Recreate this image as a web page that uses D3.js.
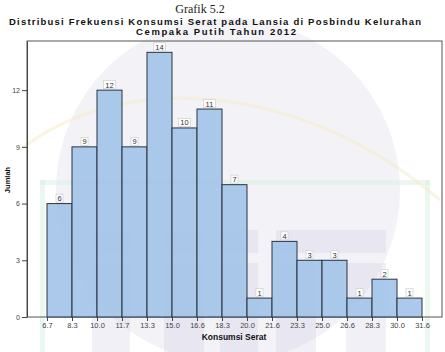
<!DOCTYPE html>
<html>
<head>
<meta charset="utf-8">
<script src="https://cdn.jsdelivr.net/npm/d3@7"></script>
<style>
body { margin: 0; background: #fff; }
svg { display: block; }
</style>
</head>
<body>
<div id="chart"></div>
<script>
// bin edges (Konsumsi Serat) and counts per bin
var binEdges = ["6.7", "8.3", "10.0", "11.7", "13.3", "15.0", "16.6", "18.3", "20.0", "21.6", "23.3", "25.0", "26.6", "28.3", "30.0", "31.6"];
var counts = [6, 9, 12, 9, 14, 10, 11, 7, 1, 4, 3, 3, 1, 2, 1];
var yTicks = [0, 3, 6, 9, 12];

var w = 445, h = 352;
var padL = 27, padR = 442, padT = 41, padB = 317;

var svg = d3.select("#chart").append("svg")
	.attr("width", w)
	.attr("height", h);

// faint watermark behind the chart
var wm = svg.append("g").attr("class", "watermark");
wm.append("circle")
	.attr("cx", 228).attr("cy", 190).attr("r", 172)
	.attr("fill", "#e6e6f0").attr("opacity", 0.5);
wm.append("rect").attr("x", 40).attr("y", 180).attr("width", 390).attr("height", 5)
	.attr("fill", "#d8f0e4").attr("opacity", 0.5);
wm.append("rect").attr("x", 40).attr("y", 180).attr("width", 5).attr("height", 172)
	.attr("fill", "#d8f0e4").attr("opacity", 0.5);
wm.append("rect").attr("x", 425).attr("y", 180).attr("width", 5).attr("height", 172)
	.attr("fill", "#d8f0e4").attr("opacity", 0.5);
[[92, 230, 38, 23], [92, 263, 38, 89], [164, 230, 40, 23], [164, 263, 40, 89], [220, 230, 38, 23], [220, 263, 38, 89], [276, 230, 110, 23], [276, 263, 40, 89], [346, 263, 40, 89]]
	.forEach(function (r) {
		wm.append("rect").attr("x", r[0]).attr("y", r[1]).attr("width", r[2]).attr("height", r[3])
			.attr("fill", "#d6d3e4").attr("opacity", 0.35);
	});
wm.append("path")
	.attr("d", "M20,150 C120,70 300,80 440,200")
	.attr("fill", "none").attr("stroke", "#f6ecc4").attr("stroke-width", 3).attr("opacity", 0.5);

// titles
svg.append("text")
	.attr("x", 200).attr("y", 13)
	.attr("text-anchor", "middle")
	.style("font-family", "Liberation Serif, serif")
	.style("font-size", "12px")
	.attr("fill", "#222")
	.text("Grafik 5.2");

svg.append("text")
	.attr("x", 215).attr("y", 25)
	.attr("text-anchor", "middle")
	.attr("textLength", 412)
	.style("font-family", "Liberation Sans, Arial, sans-serif")
	.style("font-size", "9.5px")
	.style("font-weight", "bold")
	.attr("fill", "#111")
	.text("Distribusi Frekuensi Konsumsi Serat pada Lansia di Posbindu Kelurahan");

svg.append("text")
	.attr("x", 216).attr("y", 35)
	.attr("text-anchor", "middle")
	.attr("textLength", 160)
	.style("font-family", "Liberation Sans, Arial, sans-serif")
	.style("font-size", "9.5px")
	.style("font-weight", "bold")
	.attr("fill", "#111")
	.text("Cempaka Putih Tahun 2012");

// scales
var xscale = d3.scaleLinear()
	.domain([0, binEdges.length - 1])
	.range([47, 422]);

var yscale = d3.scaleLinear()
	.domain([0, 14.6])
	.range([padB, padT]);

// frame
svg.append("rect")
	.attr("x", padL).attr("y", padT)
	.attr("width", padR - padL).attr("height", padB - padT)
	.attr("fill", "none")
	.attr("stroke", "#555")
	.attr("stroke-width", 1);

// bars
svg.selectAll("rect.bar")
	.data(counts)
	.enter().append("rect")
	.attr("class", "bar")
	.attr("x", function (d, i) { return xscale(i); })
	.attr("y", function (d) { return yscale(d); })
	.attr("width", function (d, i) { return xscale(i + 1) - xscale(i); })
	.attr("height", function (d) { return padB - yscale(d); })
	.attr("fill", "#a2c3e8")
	.attr("fill-opacity", 0.9)
	.attr("stroke", "#2a3440")
	.attr("stroke-width", 1);

// value labels
var lab = svg.selectAll("g.lab")
	.data(counts)
	.enter().append("g")
	.attr("class", "lab")
	.attr("transform", function (d, i) {
		return "translate(" + ((xscale(i) + xscale(i + 1)) / 2) + "," + (yscale(d) - 5) + ")";
	});
lab.append("rect")
	.attr("x", function (d) { return d >= 10 ? -6 : -3.5; })
	.attr("y", -4.5)
	.attr("width", function (d) { return d >= 10 ? 12 : 7; })
	.attr("height", 8)
	.attr("fill", "#fff")
	.attr("stroke", "#c8c8c8")
	.attr("stroke-width", 0.6);
lab.append("text")
	.attr("text-anchor", "middle")
	.attr("y", 2.5)
	.style("font-family", "Liberation Sans, Arial, sans-serif")
	.style("font-size", "7.5px")
	.attr("fill", "#333")
	.text(function (d) { return d; });

// axes
var xaxis = d3.axisBottom(xscale)
	.tickValues(d3.range(binEdges.length))
	.tickFormat(function (d) { return binEdges[d]; })
	.tickSize(4)
	.tickPadding(2)
	.tickSizeOuter(0);

var yaxis = d3.axisLeft(yscale)
	.tickValues(yTicks)
	.tickFormat(d3.format("d"))
	.tickSize(5)
	.tickSizeOuter(0);

var gx = svg.append("g")
	.attr("class", "x axis")
	.attr("transform", "translate(0," + padB + ")")
	.call(xaxis);
gx.select(".domain").remove();
gx.selectAll(".tick line").attr("stroke", "#444");
gx.selectAll(".tick text")
	.style("font-family", "Liberation Sans, Arial, sans-serif")
	.style("font-size", "7.5px")
	.attr("fill", "#444");

var gy = svg.append("g")
	.attr("class", "y axis")
	.attr("transform", "translate(" + padL + ",0)")
	.call(yaxis);
gy.select(".domain").attr("stroke", "#444");
gy.selectAll(".tick line").attr("stroke", "#444");
gy.selectAll(".tick text")
	.attr("x", -7)
	.style("font-family", "Liberation Sans, Arial, sans-serif")
	.style("font-size", "7px")
	.attr("fill", "#444");

// axis titles
svg.append("text")
	.attr("x", 234).attr("y", 340)
	.attr("text-anchor", "middle")
	.style("font-family", "Liberation Sans, Arial, sans-serif")
	.style("font-size", "8.5px")
	.style("font-weight", "bold")
	.attr("fill", "#111")
	.text("Konsumsi Serat");

svg.append("text")
	.attr("transform", "translate(10,180) rotate(-90)")
	.attr("text-anchor", "middle")
	.style("font-family", "Liberation Sans, Arial, sans-serif")
	.style("font-size", "7.5px")
	.style("font-weight", "bold")
	.attr("fill", "#111")
	.text("Jumlah");
</script>
</body>
</html>
